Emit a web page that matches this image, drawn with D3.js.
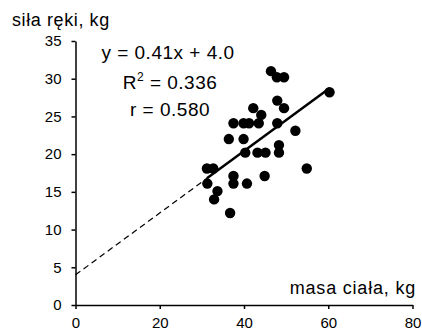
<!DOCTYPE html>
<html>
<head>
<meta charset="utf-8" />
<script src="https://d3js.org/d3.v7.min.js"></script>
<style>
    body { margin: 0; background: #fff; }
    text { font-family: "Liberation Sans", Arial, sans-serif; fill: #000; }
</style>
</head>
<body>
<svg width="422" height="335"></svg>
<script>
// body mass (kg) and grip strength (kg)
var masa = [46.4, 47.8, 49.5, 60.3, 47.9, 49.5, 42.2, 44.1, 37.5, 39.9, 41.2, 43.5,
            47.9, 52.2, 36.4, 39.9, 40.3, 43.2, 45.1, 48.3, 48.3, 31.2, 32.7, 54.9,
            37.5, 44.9, 31.3, 37.5, 40.7, 33.7, 32.9, 36.7];
var sila = [31.0, 30.2, 30.2, 28.2, 27.1, 26.1, 26.1, 25.2, 24.1, 24.1, 24.1, 24.1,
            24.1, 23.1, 22.0, 22.0, 20.2, 20.2, 20.2, 21.2, 20.2, 18.1, 18.1, 18.1,
            17.1, 17.1, 16.1, 16.1, 16.1, 15.1, 14.0, 12.2];
var slope = 0.41, intercept = 4.0;
var statLines = ["y = 0.41x + 4.0", "R2 = 0.336", "r = 0.580"];
var xTicks = [0, 20, 40, 60, 80];
var yTicks = [0, 5, 10, 15, 20, 25, 30, 35];

var svg = d3.select("svg");
var x = d3.scaleLinear().domain([0, 80]).range([75.5, 412.5]);
var y = d3.scaleLinear().domain([0, 35]).range([305, 41]);

svg.append("g")
    .attr("transform", "translate(0,305)")
    .call(d3.axisBottom(x).tickValues(xTicks).tickSize(4).tickSizeOuter(0).tickPadding(8));
svg.append("g")
    .attr("transform", "translate(75.5,0)")
    .call(d3.axisLeft(y).tickValues(yTicks).tickSize(4).tickSizeOuter(0).tickPadding(10));
svg.selectAll(".domain, .tick line").attr("stroke", "#000").attr("stroke-width", 1.5);
svg.selectAll(".tick text").attr("font-size", 15).attr("font-family", "Liberation Sans, Arial, sans-serif");

// trend line: dashed from 0 to first point, solid over the data
var x0 = d3.min(masa), x1 = d3.max(masa);
svg.append("line")
    .attr("x1", x(0)).attr("y1", y(intercept))
    .attr("x2", x(x0)).attr("y2", y(slope * x0 + intercept))
    .attr("stroke", "#000").attr("stroke-width", 1.2).attr("stroke-dasharray", "6,4");

svg.append("g").selectAll("circle")
    .data(masa)
    .enter().append("circle")
    .attr("cx", function (d) { return x(d); })
    .attr("cy", function (d, i) { return y(sila[i]); })
    .attr("r", 5.2)
    .attr("fill", "#000");

svg.append("line")
    .attr("x1", x(x0)).attr("y1", y(slope * x0 + intercept))
    .attr("x2", x(x1)).attr("y2", y(slope * x1 + intercept))
    .attr("stroke", "#000").attr("stroke-width", 2.5);

// axis titles
svg.append("text").attr("x", 12).attr("y", 26).attr("font-size", 18)
    .attr("letter-spacing", 0.6).text("siła ręki, kg");
svg.append("text").attr("x", 416).attr("y", 294).attr("text-anchor", "end")
    .attr("font-size", 18).attr("letter-spacing", 0.8).text("masa ciała, kg");

// statistics
var statY = [59, 89, 116];
var st = svg.append("g").attr("font-size", 19).attr("letter-spacing", 0.5).attr("text-anchor", "middle");
st.append("text").attr("x", 168).attr("y", statY[0]).text(statLines[0]);
var r2 = st.append("text").attr("x", 170).attr("y", statY[1]);
r2.append("tspan").text("R");
r2.append("tspan").attr("font-size", 12).attr("dy", -8).text("2");
r2.append("tspan").attr("dy", 8).text(statLines[1].slice(2));
st.append("text").attr("x", 170).attr("y", statY[2]).text(statLines[2]);
</script>
</body>
</html>
